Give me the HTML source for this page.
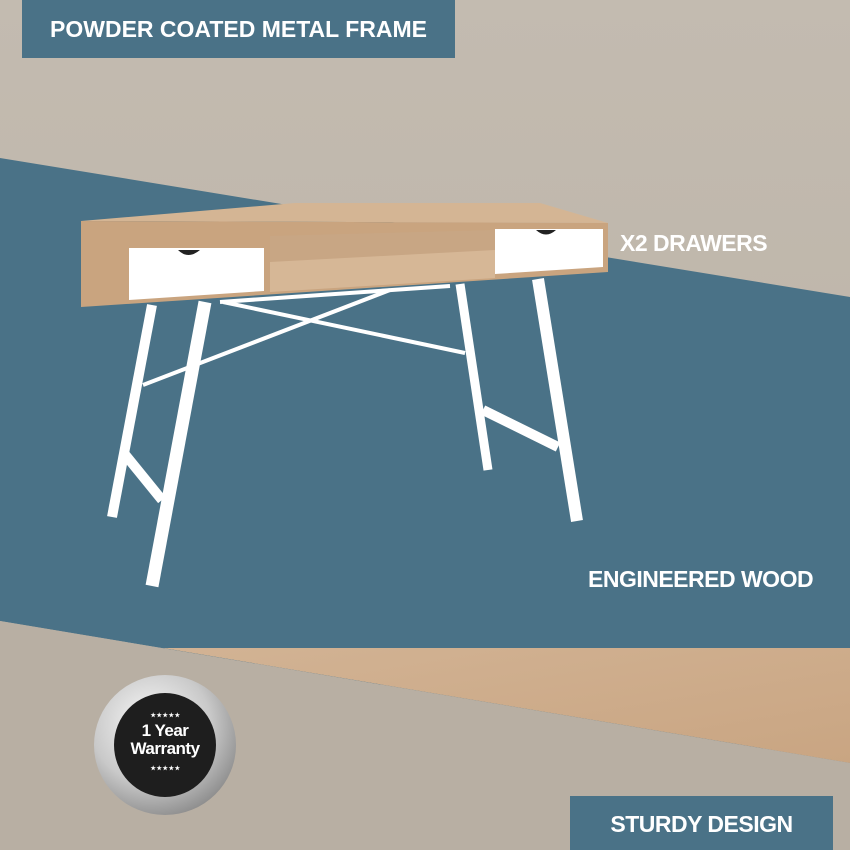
<!DOCTYPE html>
<html><head><style>
body{margin:0}
.c{position:relative;width:850px;height:850px;overflow:hidden;font-family:"Liberation Sans",sans-serif;font-weight:bold;color:#fff}
.t{position:absolute;white-space:nowrap;letter-spacing:-0.5px}
</style></head><body><div class="c">
<svg width="850" height="850" style="position:absolute;left:0;top:0">
<defs>
<linearGradient id="bg" x1="0" y1="0" x2="0" y2="1"><stop offset="0" stop-color="#c3bbb0"/><stop offset="1" stop-color="#b9b0a4"/></linearGradient>
<linearGradient id="wd" x1="0" y1="0" x2="1" y2="1"><stop offset="0" stop-color="#d2b394"/><stop offset="1" stop-color="#c9a582"/></linearGradient>
<radialGradient id="sv" cx="0.4" cy="0.35" r="0.7"><stop offset="0" stop-color="#fafafa"/><stop offset="0.6" stop-color="#c9c9c9"/><stop offset="1" stop-color="#8a8a8a"/></radialGradient>
</defs>
<rect width="850" height="850" fill="url(#bg)"/>
<polygon points="0,158 850,297 850,763 0,621" fill="#4a7287"/>
<polygon points="163,648 850,648 850,763" fill="url(#wd)"/>
<polygon points="0,621 850,763 850,850 0,850" fill="#b8afa3"/>
<!-- legs -->
<g stroke="#fff" fill="none">
<line x1="152" y1="305" x2="112" y2="517" stroke-width="10"/>
<line x1="205" y1="302" x2="152" y2="586" stroke-width="13"/>
<line x1="123" y1="452" x2="162" y2="500" stroke-width="10"/>
<line x1="460" y1="284" x2="488" y2="470" stroke-width="9"/>
<line x1="538" y1="279" x2="577" y2="521" stroke-width="12"/>
<line x1="483" y1="410" x2="558" y2="447" stroke-width="10"/>
<line x1="223" y1="302" x2="465" y2="353" stroke-width="4"/>
<line x1="390" y1="290" x2="143" y2="385" stroke-width="4"/>
<line x1="220" y1="302" x2="450" y2="286" stroke-width="4"/>
</g>
<!-- desk -->
<polygon points="81,221 295,203 540,203 608,223" fill="#d4b594"/>
<polygon points="81,221 608,223 608,272 81,307" fill="#c9a47f"/>
<polygon points="270,236 495,230 495,278 270,292" fill="#c8a684"/>
<polygon points="270,262 495,250 495,278 270,292" fill="#d6b796"/>
<polygon points="129,248 264,248 264,291 129,300" fill="#fff"/>
<polygon points="495,229 603,229 603,267 495,274" fill="#fff"/>
<path d="M178,250 q10,10 22,0z" fill="#222"/>
<path d="M536,230 q10,9 20,0z" fill="#222"/>
<!-- badge -->
<ellipse cx="165" cy="745" rx="71" ry="70" fill="url(#sv)"/>
<ellipse cx="165" cy="745" rx="51" ry="52" fill="#1e1e1e"/>
</svg>
<div class="t" style="left:22px;top:0;width:433px;height:58px;background:#4a7287;font-size:23px;line-height:58px;text-align:center;letter-spacing:0">POWDER COATED METAL FRAME</div>
<div class="t" style="left:620px;top:230px;font-size:23px">X2 DRAWERS</div>
<div class="t" style="left:588px;top:566px;font-size:23px">ENGINEERED WOOD</div>
<div class="t" style="left:570px;top:796px;width:263px;height:54px;background:#4a7287;font-size:23px;line-height:56px;text-align:center">STURDY DESIGN</div>
<div class="t" style="left:115px;top:712px;width:100px;text-align:center;font-size:6px">★ ★ ★ ★ ★</div>
<div class="t" style="left:115px;top:722px;width:100px;text-align:center;font-size:17px;line-height:18px">1 Year<br>Warranty</div>
<div class="t" style="left:115px;top:765px;width:100px;text-align:center;font-size:6px">★ ★ ★ ★ ★</div>
</div></body></html>
